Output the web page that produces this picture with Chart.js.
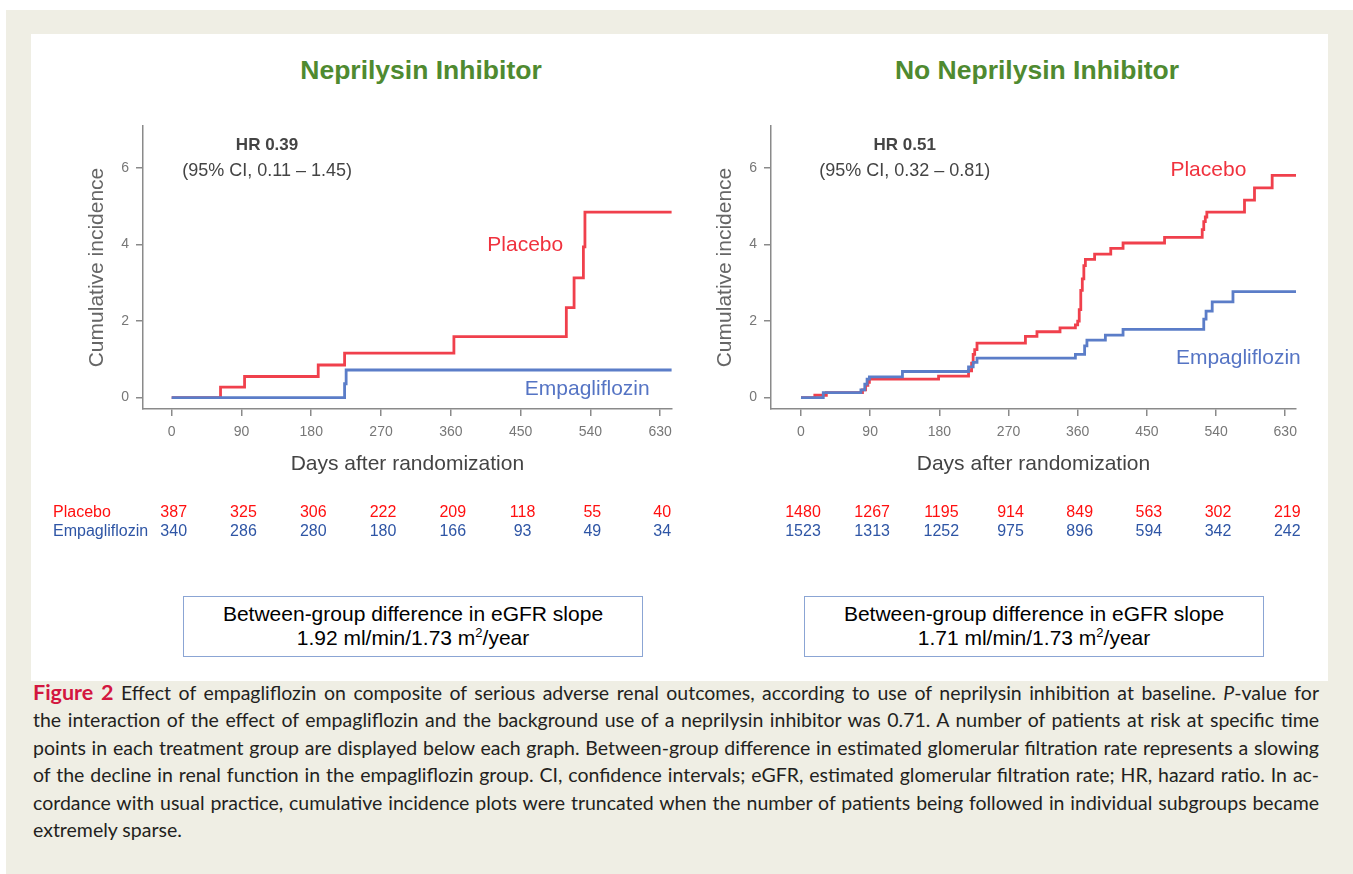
<!DOCTYPE html>
<html>
<head>
<meta charset="utf-8">
<title>Empagliflozin renal outcomes by neprilysin inhibitor use</title>
<script src="https://cdn.jsdelivr.net/npm/chart.js@4.4.1/dist/chart.umd.min.js"></script>
<style>
  body { margin: 0; background: #fff; width: 1353px; height: 874px; overflow: hidden; position: relative; font-family: "Liberation Sans", Arial, sans-serif; }
  .frame { position: absolute; left: 6px; top: 10px; width: 1347px; height: 864px; background: #efeee4; }
  .panel { position: absolute; left: 31px; top: 34px; width: 1297px; height: 647px; background: #fff; }
  .title { position: absolute; top: 53px; width: 640px; text-align: center; font-weight: bold; font-size: 26.5px; line-height: 34px; color: #4f8a30; }
  .plot { position: absolute; top: 120px; width: 640px; height: 430px; }
  .box { position: absolute; top: 596px; width: 460px; height: 61px; box-sizing: border-box; border: 1.5px solid #8ba5d4;
         padding-top: 5px; text-align: center; font-size: 21px; line-height: 24px; color: #000; background: #fff; }
  .box sup { font-size: 13px; line-height: 0; vertical-align: 8px; }
  .caption { position: absolute; left: 33px; top: 679px; width: 1286px; font-family: Lato, "Open Sans", sans-serif; font-size: 19.5px; color: #231f20; }
  .caption div { height: 27.4px; line-height: 27.4px; white-space: nowrap; text-align: justify; text-align-last: justify; }
  .caption div.last { text-align-last: left; }
  .caption b { color: #d3163f; font-size: 21.5px; }
</style>
</head>
<body>
<div class="frame"></div>
<div class="panel"></div>

<div class="title" style="left:101px">Neprilysin Inhibitor</div>
<div class="title" style="left:717px">No Neprilysin Inhibitor</div>

<div class="plot" style="left:40px"><canvas id="chartNep" width="640" height="430"></canvas></div>
<div class="plot" style="left:690px"><canvas id="chartNoNep" width="640" height="430"></canvas></div>

<div class="box" style="left:183px">Between-group difference in eGFR slope<br>1.92 ml/min/1.73 m<sup>2</sup>/year</div>
<div class="box" style="left:804px">Between-group difference in eGFR slope<br>1.71 ml/min/1.73 m<sup>2</sup>/year</div>

<div class="caption">
  <div><b>Figure 2</b> Effect of empagliflozin on composite of serious adverse renal outcomes, according to use of neprilysin inhibition at baseline. <i>P</i>-value for</div>
  <div>the interaction of the effect of empagliflozin and the background use of a neprilysin inhibitor was 0.71. A number of patients at risk at specific time</div>
  <div>points in each treatment group are displayed below each graph. Between-group difference in estimated glomerular filtration rate represents a slowing</div>
  <div>of the decline in renal function in the empagliflozin group. CI, confidence intervals; eGFR, estimated glomerular filtration rate; HR, hazard ratio. In ac-</div>
  <div>cordance with usual practice, cumulative incidence plots were truncated when the number of patients being followed in individual subgroups became</div>
  <div class="last">extremely sparse.</div>
</div>

<script>
// axis ticks
const tickDays = [0, 90, 180, 270, 360, 450, 540, 630];
const incidenceTicks = [0, 2, 4, 6];

// patients on a neprilysin inhibitor
const nepPlaceboDays = [0, 63, 94, 189, 223, 364, 509, 519, 531, 533, 645];
const nepPlaceboInc = [0, 0.27, 0.55, 0.85, 1.16, 1.59, 2.35, 3.13, 3.94, 4.85, 4.85];
const nepEmpaDays = [0, 223, 225, 645];
const nepEmpaInc = [0, 0.36, 0.72, 0.72];
const nepRiskPlacebo = [387, 325, 306, 222, 209, 118, 55, 40];
const nepRiskEmpa = [340, 286, 280, 180, 166, 93, 49, 34];

// patients not on a neprilysin inhibitor
const noNepPlaceboDays = [0, 18, 33, 80, 84, 87, 89, 179, 218, 222, 224, 226, 229, 292, 307, 337, 357, 360, 362, 364, 366, 368, 370, 382, 403, 419, 473, 522, 524, 526, 528, 577, 590, 613, 644];
const noNepPlaceboInc = [0, 0.06, 0.13, 0.2, 0.32, 0.4, 0.48, 0.56, 0.7, 0.9, 1.13, 1.25, 1.42, 1.6, 1.72, 1.82, 1.9, 2.0, 2.3, 2.8, 3.1, 3.45, 3.61, 3.75, 3.9, 4.04, 4.19, 4.39, 4.6, 4.72, 4.85, 5.16, 5.48, 5.81, 5.81];
const noNepEmpaDays = [0, 29, 78, 83, 86, 89, 132, 218, 224, 229, 357, 369, 372, 396, 419, 524, 527, 535, 562, 644];
const noNepEmpaInc = [0, 0.13, 0.2, 0.35, 0.48, 0.54, 0.68, 0.8, 0.92, 1.03, 1.13, 1.35, 1.5, 1.63, 1.78, 2.05, 2.26, 2.5, 2.77, 2.77];
const noNepRiskPlacebo = [1480, 1267, 1195, 914, 849, 563, 302, 219];
const noNepRiskEmpa = [1523, 1313, 1252, 975, 896, 594, 342, 242];

const RED = "#f0404c";
const BLUE = "#5b7dc8";
const FONT = '"Liberation Sans", Arial, sans-serif';

Chart.defaults.font.family = FONT;

function toPoints(days, values) {
    return days.map((d, i) => ({ x: d, y: values[i] }));
}

// HR text, curve labels and the numbers-at-risk rows under the x axis
const kmNotes = {
    id: "kmNotes",
    afterDraw(chart, args, o) {
        const { ctx, chartArea } = chart;
        const x = chart.scales.x, y = chart.scales.y;
        ctx.save();
        ctx.textAlign = "center";
        ctx.textBaseline = "middle";

        const hx = x.getPixelForValue(o.hrAt[0]);
        const hy = y.getPixelForValue(o.hrAt[1]);
        ctx.fillStyle = "#444";
        ctx.font = "bold 17px " + FONT;
        ctx.fillText(o.hr, hx, hy);
        ctx.font = "18px " + FONT;
        ctx.fillText(o.ci, hx, hy + 26);

        ctx.font = "21px " + FONT;
        ctx.fillStyle = "#f0323e";
        ctx.fillText("Placebo", x.getPixelForValue(o.placeboAt[0]), y.getPixelForValue(o.placeboAt[1]));
        ctx.fillStyle = "#5574c4";
        ctx.fillText("Empagliflozin", x.getPixelForValue(o.empaAt[0]), y.getPixelForValue(o.empaAt[1]));

        const row1 = chartArea.bottom + 104, row2 = chartArea.bottom + 123;
        ctx.font = "16px " + FONT;
        tickDays.forEach((d, i) => {
            const px = x.getPixelForValue(d) + 2;
            ctx.fillStyle = "#ff1010";
            ctx.fillText(String(o.riskPlacebo[i]), px, row1);
            ctx.fillStyle = "#2e55a5";
            ctx.fillText(String(o.riskEmpa[i]), px, row2);
        });
        if (o.rowLabels) {
            ctx.textAlign = "left";
            ctx.fillStyle = "#ff1010";
            ctx.fillText("Placebo", chartArea.left - 90, row1);
            ctx.fillStyle = "#2e55a5";
            ctx.fillText("Empagliflozin", chartArea.left - 90, row2);
        }
        ctx.restore();
    }
};

function makeChart(id, cfg) {
    const axisColor = "#8a8a8a";
    return new Chart(document.getElementById(id), {
        type: "line",
        data: {
            datasets: [
                { label: "Empagliflozin", data: cfg.empa, borderColor: BLUE, borderWidth: 2.8, stepped: true, pointRadius: 0, fill: false, order: 0 },
                { label: "Placebo", data: cfg.placebo, borderColor: RED, borderWidth: 2.8, stepped: true, pointRadius: 0, fill: false, order: 1 }
            ]
        },
        options: {
            responsive: false,
            animation: false,
            devicePixelRatio: 1,
            layout: { padding: cfg.padding },
            plugins: {
                legend: { display: false },
                tooltip: { enabled: false },
                kmNotes: cfg.notes
            },
            scales: {
                x: {
                    type: "linear",
                    min: cfg.xMin,
                    max: cfg.xMax,
                    afterBuildTicks: (s) => { s.ticks = tickDays.map(v => ({ value: v })); },
                    afterFit: (s) => { s.height = 71; },
                    grid: { drawOnChartArea: false, drawTicks: true, tickLength: 7, color: axisColor, lineWidth: 1.5 },
                    border: { color: axisColor, width: 1.5 },
                    ticks: { color: "#777", font: { size: 14 }, padding: 8, maxRotation: 0 },
                    title: { display: true, text: "Days after randomization", color: "#444", font: { size: 21 }, padding: { top: 4, bottom: 3 } }
                },
                y: {
                    min: -0.3,
                    max: 7.1,
                    afterBuildTicks: (s) => { s.ticks = incidenceTicks.map(v => ({ value: v })); },
                    afterFit: (s) => { s.width = 58.6; s.paddingTop = 0; s.paddingBottom = 0; },
                    grid: { drawOnChartArea: false, drawTicks: true, tickLength: 7, color: axisColor, lineWidth: 1.5 },
                    border: { color: axisColor, width: 1.5 },
                    ticks: { color: "#777", font: { size: 14 }, padding: 7 },
                    title: { display: true, text: "Cumulative incidence", color: "#666", font: { size: 21 }, padding: { top: 0, bottom: 10 } }
                }
            }
        },
        plugins: [kmNotes]
    });
}

makeChart("chartNep", {
    placebo: toPoints(nepPlaceboDays, nepPlaceboInc),
    empa: toPoints(nepEmpaDays, nepEmpaInc),
    xMin: -37, xMax: 645,
    padding: { left: 44.4, right: 8, top: 6, bottom: 70 },
    notes: {
        hr: "HR 0.39", ci: "(95% CI, 0.11 \u2013 1.45)", hrAt: [123, 6.6],
        placeboAt: [456, 3.99], empaAt: [536, 0.21],
        riskPlacebo: nepRiskPlacebo, riskEmpa: nepRiskEmpa, rowLabels: true
    }
});

makeChart("chartNoNep", {
    placebo: toPoints(noNepPlaceboDays, noNepPlaceboInc),
    empa: toPoints(noNepEmpaDays, noNepEmpaInc),
    xMin: -39, xMax: 644,
    padding: { left: 22.4, right: 34, top: 6, bottom: 70 },
    notes: {
        hr: "HR 0.51", ci: "(95% CI, 0.32 \u2013 0.81)", hrAt: [135, 6.6],
        placeboAt: [530, 5.95], empaAt: [569, 1.02],
        riskPlacebo: noNepRiskPlacebo, riskEmpa: noNepRiskEmpa, rowLabels: false
    }
});
</script>
</body>
</html>
